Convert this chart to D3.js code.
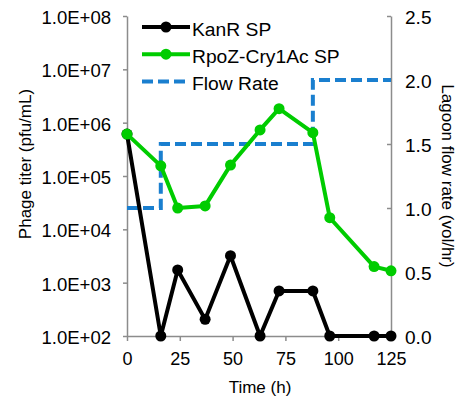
<!DOCTYPE html>
<html>
<head>
<meta charset="utf-8">
<script src="https://cdn.jsdelivr.net/npm/d3@7"></script>
<style>
  body { margin: 0; background: #fff; }
  text { font-family: "Liberation Sans", Arial, sans-serif; fill: #000; }
</style>
</head>
<body>
<div id="chart"></div>
<script>
const w = 470;
const h = 399;

// time points (h)
const times = [0, 16, 24, 37, 49, 63, 72, 88, 96, 117, 125];
// phage titer (pfu/mL)
const kanR = [6.1e5, 100, 1730, 205, 3200, 100, 700, 700, 100, 100, 100];
const rpoZ = [6.1e5, 1.55e5, 2.5e4, 2.75e4, 1.6e5, 7.3e5, 1.83e6, 6.5e5, 1.65e4, 2000, 1670];
// lagoon flow rate (vol/hr), step changes
const flowTimes = [0, 16, 88, 125];
const flowRates = [1.0, 1.5, 2.0, 2.0];

const xTicks = [0, 25, 50, 75, 100, 125];
const yTicks = [1e2, 1e3, 1e4, 1e5, 1e6, 1e7, 1e8];
const y2Ticks = [0, 0.5, 1.0, 1.5, 2.0, 2.5];

const margin = { left: 127, right: 79, top: 16, bottom: 63 };

const svg = d3.select("#chart").append("svg").attr("width", w).attr("height", h);

const xScale = d3.scaleLinear().domain([0, 125]).range([margin.left, w - margin.right]);
const yScale = d3.scaleLog().domain([1e2, 1e8]).range([h - margin.bottom, margin.top]);
const y2Scale = d3.scaleLinear().domain([0, 2.5]).range([h - margin.bottom, margin.top]);

const fmtExp = (d) => {
  const e = Math.round(Math.log10(d));
  return "1.0E+" + (e < 10 ? "0" + e : e);
};

//widen text a little, the original lettering is a bit wider than Liberation Sans
const stretch = (sel, k) => {
  sel.each(function () {
    const len = this.getComputedTextLength();
    d3.select(this).attr("textLength", len * k).attr("lengthAdjust", "spacingAndGlyphs");
  });
};

//Axes
const axisColor = "#8c8c8c";
const styleAxis = (g) => {
  g.select(".domain").attr("stroke", axisColor).attr("stroke-width", 1.5);
  g.selectAll(".tick line").attr("stroke", axisColor).attr("stroke-width", 1.5);
  g.selectAll(".tick text").style("font-size", "18px").attr("fill", "#000");
};

svg
  .append("g")
  .attr("transform", `translate(0, ${h - margin.bottom})`)
  .call(d3.axisBottom(xScale).tickValues(xTicks).tickSize(5).tickSizeOuter(0).tickPadding(11))
  .call(styleAxis);

const yAxisG = svg
  .append("g")
  .attr("transform", `translate(${margin.left}, 0)`)
  .call(d3.axisLeft(yScale).tickValues(yTicks).tickFormat(fmtExp).tickSize(4).tickSizeOuter(0).tickPadding(12))
  .call(styleAxis);
yAxisG.selectAll(".tick text").attr("dy", "0.42em").call(stretch, 1.03);

const y2AxisG = svg
  .append("g")
  .attr("transform", `translate(${w - margin.right}, 0)`)
  .call(d3.axisRight(y2Scale).tickValues(y2Ticks).tickFormat(d3.format(".1f")).tickSize(-4).tickSizeOuter(0).tickPadding(14))
  .call(styleAxis);
y2AxisG.selectAll(".tick text").attr("dy", "0.42em").call(stretch, 1.06);

//Axis titles
svg
  .append("text")
  .attr("transform", "translate(31, 164) rotate(-90)")
  .attr("text-anchor", "middle")
  .style("font-size", "17px")
  .text("Phage titer (pfu/mL)");

svg
  .append("text")
  .attr("transform", "translate(442, 176) rotate(90)")
  .attr("text-anchor", "middle")
  .style("font-size", "17px")
  .text("Lagoon flow rate (vol/hr)");

svg
  .append("text")
  .attr("x", 260)
  .attr("y", 393)
  .attr("text-anchor", "middle")
  .style("font-size", "17px")
  .text("Time (h)");

//Flow rate step line
const blue = "#1a7fcf";
const green = "#00cc00";

const flowLine = d3
  .line()
  .x((d) => xScale(d[0]))
  .y((d) => y2Scale(d[1]))
  .curve(d3.curveStepAfter);

svg
  .append("path")
  .datum(flowTimes.map((t, i) => [t, flowRates[i]]))
  .attr("d", flowLine)
  .attr("fill", "none")
  .attr("stroke", blue)
  .attr("stroke-width", 4)
  .attr("stroke-dasharray", "11,5");

//Titer series
const titerLine = d3
  .line()
  .x((d) => xScale(d[0]))
  .y((d) => yScale(d[1]));

const drawSeries = (values, color) => {
  const pts = times.map((t, i) => [t, values[i]]);
  svg
    .append("path")
    .datum(pts)
    .attr("d", titerLine)
    .attr("fill", "none")
    .attr("stroke", color)
    .attr("stroke-width", 4)
    .attr("stroke-linejoin", "round");
  svg
    .append("g")
    .selectAll("circle")
    .data(pts)
    .enter()
    .append("circle")
    .attr("cx", (d) => xScale(d[0]))
    .attr("cy", (d) => yScale(d[1]))
    .attr("r", 5.5)
    .attr("fill", color);
};

drawSeries(kanR, "#000");
drawSeries(rpoZ, green);

//Legend
const legend = [
  { name: "KanR SP", color: "#000", dash: null, marker: true },
  { name: "RpoZ-Cry1Ac SP", color: green, dash: null, marker: true },
  { name: "Flow Rate", color: blue, dash: "11,5", marker: false },
];

const lg = svg.append("g").attr("transform", "translate(142, 27)");
legend.forEach((d, i) => {
  const row = lg.append("g").attr("transform", `translate(0, ${i * 27.2})`);
  row
    .append("line")
    .attr("x1", 0)
    .attr("x2", 48)
    .attr("stroke", d.color)
    .attr("stroke-width", 4)
    .attr("stroke-dasharray", d.dash);
  if (d.marker) {
    row.append("circle").attr("cx", 24).attr("r", 5.5).attr("fill", d.color);
  }
  row
    .append("text")
    .attr("x", 50)
    .attr("y", 9)
    .style("font-size", "18px")
    .text(d.name)
    .call(stretch, 1.07);
});
</script>
</body>
</html>
